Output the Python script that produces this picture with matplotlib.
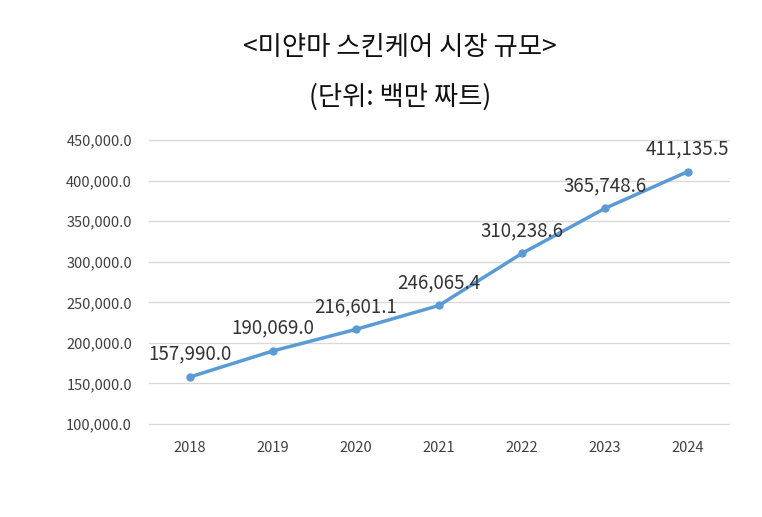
import matplotlib.pyplot as plt
from matplotlib.ticker import FuncFormatter

plt.rcParams['font.family'] = ['Noto Sans CJK KR', 'DejaVu Sans']

years = ['2018', '2019', '2020', '2021', '2022', '2023', '2024']
market = [157990.0, 190069.0, 216601.1, 246065.4, 310238.6, 365748.6, 411135.5]

fig = plt.figure(figsize=(7.62, 5.17), dpi=100)
ax = fig.add_axes([0.195, 0.180, 0.762, 0.549])

xs = range(len(years))
ax.plot(xs, market, color='#5B9BD5', linewidth=2.5, marker='o', markersize=5, zorder=3)

for x, v in zip(xs, market):
    ax.annotate(f'{v:,.1f}', (x, v), xytext=(0, 9), textcoords='offset points',
                ha='center', va='bottom', fontsize=13.5, color='#333333')

ax.set_xlim(-0.5, 6.5)
ax.set_ylim(100000, 450000)
ax.set_yticks(range(100000, 450001, 50000))
ax.yaxis.set_major_formatter(FuncFormatter(lambda v, p: f'{v:,.1f}'))
ax.set_xticks(list(xs))
ax.set_xticklabels(years)
ax.tick_params(length=0, labelsize=10.5, colors='#404040')
ax.tick_params(axis='x', pad=12)
ax.tick_params(axis='y', pad=12)
ax.grid(axis='y', color='#d9d9d9', linewidth=1)
for gl in ax.get_ygridlines():
    gl.set_clip_on(False)
ax.set_axisbelow(True)
for s in ax.spines.values():
    s.set_visible(False)

fig.text(0.525, 0.909, '<미얀마 스킨케어 시장 규모>', ha='center', va='center',
         fontsize=19, fontweight='medium', color='#111111')
fig.text(0.525, 0.812, '(단위: 백만 짜트)', ha='center', va='center',
         fontsize=19, fontweight='medium', color='#111111')

fig.savefig('out.png', dpi=100)
